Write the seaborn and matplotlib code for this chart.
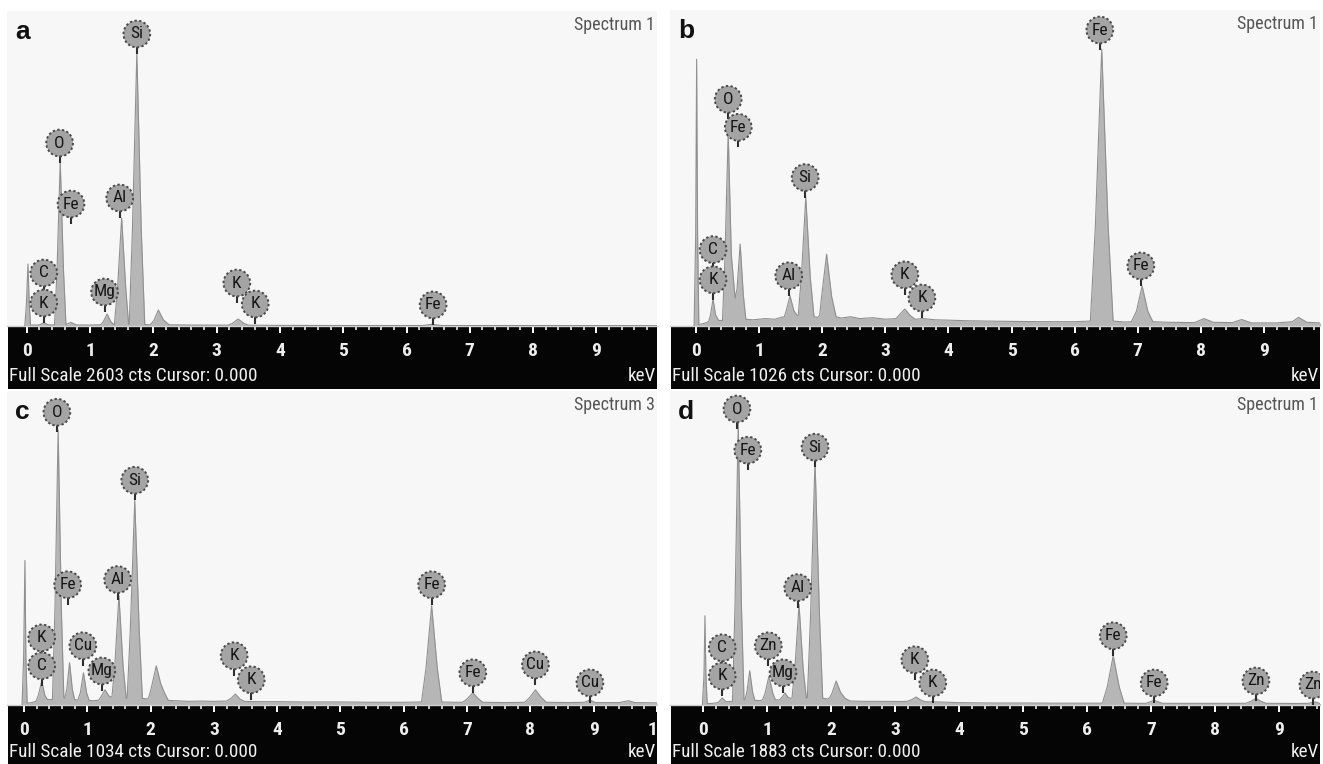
import numpy as np
import matplotlib
matplotlib.use("Agg")
import matplotlib.pyplot as plt
import seaborn as sns
from matplotlib import font_manager as fm
from matplotlib.ticker import FixedLocator

# ---------------- data ----------------
panel_letters = ["a", "b", "c", "d"]
spectrum_names = ["Spectrum 1", "Spectrum 1", "Spectrum 3", "Spectrum 1"]
full_scale_cts = [2603, 1026, 1034, 1883]
major_ticks = [list(range(0, 10)), list(range(0, 10)), list(range(0, 11)), list(range(0, 10))]

a_energy = [-0.03, -0.005, 0.02, 0.04, 0.06, 0.19, 0.27, 0.35, 0.44, 0.48, 0.53, 0.58, 0.62, 0.70, 0.78,
            1.00, 1.15, 1.17, 1.21, 1.27, 1.33, 1.375, 1.385, 1.435, 1.50, 1.565, 1.61, 1.62, 1.67, 1.74,
            1.81, 1.865, 1.95, 2.01, 2.08, 2.16, 2.25, 2.60, 3.00, 3.18, 3.25, 3.34, 3.43, 3.50, 4.00,
            5.00, 6.25, 6.40, 6.55, 8.00, 9.95]
a_counts = [0, 180, 512, 180, 8, 8, 25, 9, 10, 477, 1363, 477, 12, 30, 9,
            8, 10, 10, 35, 99, 35, 12, 12, 312, 892, 312, 14, 14, 790, 2256,
            790, 12, 10, 46, 132, 50, 10, 8, 7, 7, 22, 58, 22, 7, 5,
            4, 4, 14, 4, 4, 3]

b_energy = [-0.03, -0.005, 0.01, 0.025, 0.045, 0.12, 0.20, 0.23, 0.27, 0.31,
            0.36, 0.42, 0.46, 0.51, 0.56, 0.62, 0.65, 0.70, 0.75, 0.79,
            0.90, 1.10, 1.25, 1.35, 1.40, 1.43, 1.49, 1.55, 1.60, 1.62,
            1.67, 1.74, 1.81, 1.87, 1.93, 1.96, 1.99, 2.07, 2.15, 2.22,
            2.30, 2.45, 2.60, 2.80, 3.00, 3.17, 3.23, 3.31, 3.39, 3.47,
            3.60, 3.80, 4.00, 4.30, 4.60, 5.00, 5.50, 6.00, 6.25, 6.33,
            6.43, 6.53, 6.61, 6.80, 6.90, 6.98, 7.07, 7.16, 7.24, 7.50,
            7.90, 8.05, 8.20, 8.50, 8.65, 8.80, 9.20, 9.45, 9.55, 9.68, 9.90]
b_counts = [0, 300, 866, 300, 5, 8, 14, 36, 87, 36,
            18, 18, 230, 630, 230, 90, 120, 266, 100, 22,
            20, 24, 22, 28, 30, 50, 98, 50, 35, 34,
            160, 418, 160, 30, 28, 35, 95, 233, 95, 30,
            26, 30, 24, 27, 22, 24, 38, 55, 35, 22,
            24, 20, 19, 17, 16, 15, 14, 14, 16, 330,
            899, 330, 16, 13, 14, 48, 130, 48, 14, 12,
            11, 24, 12, 11, 21, 10, 10, 14, 28, 12, 10]

c_energy = [-0.03, -0.005, 0.015, 0.03, 0.05, 0.12, 0.19, 0.23, 0.28, 0.33,
            0.37, 0.45, 0.49, 0.54, 0.59, 0.63, 0.645, 0.676, 0.72, 0.764,
            0.80, 0.85, 0.89, 0.94, 0.99, 1.03, 1.10, 1.18, 1.22, 1.28,
            1.34, 1.38, 1.39, 1.435, 1.50, 1.565, 1.615, 1.63, 1.68, 1.75,
            1.82, 1.87, 1.95, 1.97, 2.01, 2.09, 2.16, 2.22, 2.28, 2.40,
            2.60, 2.80, 3.00, 3.20, 3.27, 3.34, 3.41, 3.48, 3.70, 4.00,
            4.50, 5.00, 5.50, 6.00, 6.28, 6.35, 6.44, 6.53, 6.60, 6.80,
            6.93, 7.00, 7.09, 7.18, 7.25, 7.60, 7.91, 7.99, 8.08, 8.17,
            8.25, 8.60, 8.85, 8.94, 9.03, 9.40, 9.55, 9.65, 10.0]
c_counts = [0, 160, 476, 160, 6, 8, 12, 34, 79, 32,
            18, 18, 320, 905, 320, 24, 22, 52, 139, 52,
            18, 16, 40, 106, 40, 15, 14, 16, 28, 50,
            30, 26, 28, 130, 360, 130, 22, 22, 250, 674,
            250, 22, 20, 24, 55, 129, 70, 40, 15, 14,
            12, 13, 12, 13, 22, 36, 20, 12, 11, 11,
            10, 10, 9, 9, 10, 120, 327, 120, 10, 9,
            9, 20, 40, 20, 9, 8, 9, 25, 50, 25,
            9, 8, 9, 16, 8, 8, 14, 8, 7]

d_energy = [-0.01, 0.015, 0.03, 0.045, 0.065, 0.15, 0.22, 0.24, 0.30, 0.36,
            0.46, 0.50, 0.55, 0.60, 0.64, 0.655, 0.686, 0.73, 0.774, 0.81,
            0.88, 0.93, 0.97, 1.03, 1.09, 1.13, 1.18, 1.20, 1.24, 1.28,
            1.33, 1.37, 1.39, 1.435, 1.50, 1.565, 1.615, 1.63, 1.68, 1.75,
            1.82, 1.87, 1.95, 1.97, 2.01, 2.08, 2.15, 2.22, 2.30, 2.50,
            2.80, 3.10, 3.19, 3.26, 3.33, 3.40, 3.47, 3.70, 4.00, 4.50,
            5.00, 5.50, 6.00, 6.22, 6.24, 6.316, 6.41, 6.504, 6.58, 6.85,
            6.92, 7.05, 7.18, 7.60, 8.00, 8.45, 8.48, 8.56, 8.64, 8.72,
            8.80, 9.30, 9.45, 9.57, 9.64, 9.70]
d_counts = [0, 180, 535, 180, 8, 10, 14, 16, 42, 20,
            22, 600, 1697, 600, 30, 30, 80, 205, 78, 28,
            26, 30, 70, 174, 70, 32, 30, 32, 48, 72,
            46, 40, 42, 215, 602, 215, 40, 42, 530, 1468,
            530, 40, 36, 40, 65, 144, 75, 40, 24, 22,
            22, 21, 22, 32, 48, 30, 20, 18, 14, 12,
            12, 11, 11, 11, 11, 108, 295, 108, 11, 10,
            10, 28, 10, 10, 10, 10, 10, 22, 40, 22,
            10, 9, 10, 18, 9, 8]

a_label_elem = ["C", "K", "O", "Fe", "Mg", "Al", "Si", "K", "K", "Fe"]
a_label_energy = [0.27, 0.27, 0.52, 0.70, 1.23, 1.47, 1.74, 3.32, 3.61, 6.42]
a_label_counts = [438, 190, 1512, 1008, 281, 1058, 2413, 355, 182, 174]

b_label_elem = ["C", "K", "O", "Fe", "Al", "Si", "K", "K", "Fe", "Fe"]
b_label_energy = [0.27, 0.27, 0.51, 0.67, 1.47, 1.73, 3.31, 3.58, 6.40, 7.05]
b_label_counts = [248, 150, 736, 645, 163, 482, 166, 91, 961, 195]

c_label_elem = ["K", "C", "O", "Fe", "Cu", "Mg", "Al", "Si", "K", "K", "Fe", "Fe", "Cu", "Cu"]
c_label_energy = [0.28, 0.28, 0.52, 0.69, 0.93, 1.23, 1.48, 1.75, 3.32, 3.59, 6.44, 7.09, 8.08, 8.94]
c_label_counts = [221, 129, 964, 396, 195, 112, 413, 740, 162, 83, 396, 106, 132, 73]

d_label_elem = ["C", "K", "O", "Fe", "Zn", "Mg", "Al", "Si", "K", "K", "Fe", "Fe", "Zn", "Zn"]
d_label_energy = [0.30, 0.30, 0.53, 0.70, 1.02, 1.25, 1.48, 1.75, 3.31, 3.59, 6.41, 7.05, 8.64, 9.53]
d_label_counts = [343, 174, 1775, 1528, 355, 193, 704, 1546, 271, 132, 415, 132, 144, 120]

energies = [a_energy, b_energy, c_energy, d_energy]
counts = [a_counts, b_counts, c_counts, d_counts]
label_elems = [a_label_elem, b_label_elem, c_label_elem, d_label_elem]
label_energies = [a_label_energy, b_label_energy, c_label_energy, d_label_energy]
label_counts = [a_label_counts, b_label_counts, c_label_counts, d_label_counts]

# ---------------- layout / style ----------------
W, H = 1323, 764
plot_boxes = [(7, 11, 657, 326), (670, 10, 1320, 326), (7, 391, 657, 705), (670, 391, 1320, 705)]
strip_boxes = [(8, 326, 657, 389), (671, 326, 1320, 389), (8, 705, 657, 764), (671, 705, 1320, 764)]
x_limits = [(-0.311, 9.957), (-0.412, 9.889), (-0.268, 10.0), (-0.516, 9.641)]

sns.set_theme(style="white")


def pick_font(cands):
    for c in cands:
        try:
            fm.findfont(fm.FontProperties(family=c), fallback_to_default=False)
            return c
        except Exception:
            pass
    return "DejaVu Sans"


NARROW = pick_font(["Liberation Sans Narrow", "DejaVu Sans Condensed", "Roboto Condensed", "Liberation Sans"])
BOLD = pick_font(["Liberation Sans", "Noto Sans", "DejaVu Sans"])
plt.rcParams["font.family"] = [NARROW, "DejaVu Sans"]

fig = plt.figure(figsize=(W / 100, H / 100), dpi=100, facecolor="white")


def frac(box):
    x0, y0, x1, y1 = box
    return [x0 / W, 1 - y1 / H, (x1 - x0) / W, (y1 - y0) / H]


for i in range(4):
    fs = full_scale_cts[i]
    # black strip
    sax = fig.add_axes(frac(strip_boxes[i]))
    sax.set_facecolor("#050505")
    sax.set_xticks([])
    sax.set_yticks([])
    for sp in sax.spines.values():
        sp.set_visible(False)
    sax.text(0.001, 0.2, f"Full Scale {fs} cts Cursor: 0.000", transform=sax.transAxes,
             color="#f0f0f0", fontsize=13.8, ha="left", va="center")
    sax.text(0.998, 0.2, "keV", transform=sax.transAxes,
             color="#f0f0f0", fontsize=13.8, ha="right", va="center")

    # spectrum axes
    ax = fig.add_axes(frac(plot_boxes[i]))
    ax.set_facecolor("#f7f7f7")
    ax.fill_between(energies[i], 0, counts[i], color="#b6b6b6", lw=0, zorder=2)
    sns.lineplot(x=energies[i], y=counts[i], ax=ax, color="#909090", lw=0.8,
                 estimator=None, sort=False, legend=False, zorder=3)
    ax.set_xlim(*x_limits[i])
    ax.set_ylim(0, fs)
    ax.set_yticks([])
    ax.set_xlabel("")
    ax.set_ylabel("")
    for side in ("top", "left", "right"):
        ax.spines[side].set_visible(False)
    ax.spines["bottom"].set_color("#d0d0d0")
    ax.spines["bottom"].set_linewidth(1.0)

    ax.set_xticks(major_ticks[i])
    ax.set_xticklabels([str(t) for t in major_ticks[i]], fontweight="bold")
    xmax = x_limits[i][1]
    minor = [round(0.2 * k, 2) for k in range(1, int(xmax / 0.2) + 1) if k % 5 != 0]
    ax.xaxis.set_minor_locator(FixedLocator(minor))
    ax.tick_params(axis="x", which="major", direction="out", length=5, width=1.4,
                   color="white", labelcolor="#eeeeee", labelsize=14, pad=6.5, bottom=True)
    ax.tick_params(axis="x", which="minor", direction="out", length=2.6, width=1.1,
                   color="white", bottom=True)
    for lab in ax.get_xticklabels():
        lab.set_clip_on(True)
        lab.set_clip_box(sax.bbox)

    # element labels
    ax_h_px = plot_boxes[i][3] - plot_boxes[i][1]
    stem = 20.0 / ax_h_px * fs
    for el, e, c in zip(label_elems[i], label_energies[i], label_counts[i]):
        ax.plot([e, e], [c, c - stem], color="#2e2e2e", lw=1.5, zorder=5, solid_capstyle="butt")
        ax.scatter([e], [c], s=370, color="#a4a4a4", edgecolors="#4a4a4a",
                   linewidths=1.4, linestyle=(0, (1.2, 1.2)), zorder=6)
        ax.text(e, c, el, ha="center", va="center", fontsize=12.5, color="#151515",
                zorder=7, clip_on=True)

    # panel letter and spectrum name
    ax.text(0.012, 0.912, panel_letters[i], transform=ax.transAxes, fontsize=19,
            fontweight="bold", family=BOLD, color="#111111", ha="left", va="baseline")
    ax.text(0.997, 0.956, spectrum_names[i], transform=ax.transAxes, fontsize=13,
            color="#555555", ha="right", va="center")

fig.savefig("out.png", dpi=100, facecolor="white")
